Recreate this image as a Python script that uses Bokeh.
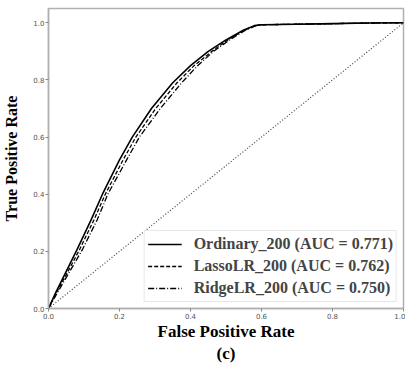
from bokeh.plotting import figure
from bokeh.models import Legend, LegendItem, LinearAxis, FixedTicker, NumeralTickFormatter
from bokeh.embed import file_html
from bokeh.resources import INLINE

# ROC data
tpr_pts = [0, 0.055, 0.13, 0.205, 0.31, 0.40, 0.52, 0.60, 0.70, 0.79, 0.85, 0.90, 0.94, 0.975, 0.99, 0.993, 0.995, 0.997, 0.999, 1.0]
fpr_ordinary = [0, 0.02, 0.05, 0.08, 0.12, 0.152, 0.20, 0.236, 0.29, 0.35, 0.40, 0.45, 0.50, 0.55, 0.58, 0.60, 0.70, 0.80, 0.90, 1.0]
fpr_lasso = [0, 0.022, 0.055, 0.087, 0.128, 0.16, 0.21, 0.246, 0.302, 0.362, 0.41, 0.46, 0.505, 0.553, 0.582, 0.60, 0.70, 0.80, 0.90, 1.0]
fpr_ridge = [0, 0.025, 0.06, 0.095, 0.137, 0.167, 0.22, 0.256, 0.315, 0.375, 0.42, 0.465, 0.51, 0.556, 0.585, 0.60, 0.70, 0.80, 0.90, 1.0]
diag = [0, 1]

labels = ["Ordinary_200 (AUC = 0.771)", "LassoLR_200 (AUC = 0.762)", "RidgeLR_200 (AUC = 0.750)"]
xticks = [0, 0.2, 0.4, 0.6, 0.8, 1.0]
yticks = [0, 0.2, 0.4, 0.6, 0.8, 1.0]
panel_caption = "(c)"

p = figure(frame_width=355, frame_height=300, x_range=(0, 1.0), y_range=(0, 1.05),
           output_backend="svg", toolbar_location=None,
           min_border_left=47, min_border_right=2, min_border_top=8, min_border_bottom=0)
p.background_fill_color = "white"
p.grid.visible = False
p.outline_line_color = "#b0b0b0"
p.outline_line_width = 1.5

r1 = p.line(fpr_ordinary, tpr_pts, line_color="black", line_width=1.6)
r2 = p.line(fpr_lasso, tpr_pts, line_color="black", line_width=1.3, line_dash="4 2")
r3 = p.line(fpr_ridge, tpr_pts, line_color="black", line_width=1.3, line_dash="6 2 1 2")
p.line(diag, diag, line_color="#444444", line_width=1.2, line_dash="1 2")

for ax in (p.xaxis[0], p.yaxis[0]):
    ax.axis_line_color = "#b0b0b0"
    ax.axis_line_width = 1.5
    ax.major_tick_line_color = "#888888"
    ax.major_tick_out = 3
    ax.major_tick_in = 0
    ax.minor_tick_line_color = None
    ax.major_label_text_font = "DejaVu Sans"
    ax.major_label_text_font_size = "7px"
    ax.major_label_text_color = "#555555"
    ax.major_label_standoff = 1
    ax.formatter = NumeralTickFormatter(format="0.0")
    ax.axis_label_text_font = "Liberation Serif"
    ax.axis_label_text_font_style = "bold"
    ax.axis_label_text_color = "black"

p.xaxis[0].ticker = xticks
p.yaxis[0].ticker = yticks
p.xaxis[0].axis_label = "False Positive Rate"
p.yaxis[0].axis_label = "True Positive Rate"
p.xaxis[0].axis_label_text_font_size = "17px"
p.yaxis[0].axis_label_text_font_size = "16px"
p.xaxis[0].axis_label_standoff = 0
p.yaxis[0].axis_label_standoff = 10

# caption "(c)" as a tickless axis label below
cap_axis = LinearAxis(ticker=FixedTicker(ticks=[]), axis_label=panel_caption,
                      axis_line_color=None, major_tick_line_color=None,
                      minor_tick_line_color=None, major_label_text_font_size="0px",
                      major_label_standoff=0, axis_label_standoff=0,
                      axis_label_text_font="Liberation Serif",
                      axis_label_text_font_style="bold",
                      axis_label_text_font_size="17px", axis_label_text_color="black")
p.add_layout(cap_axis, "below")

legend = Legend(items=[LegendItem(label=labels[0], renderers=[r1]),
                       LegendItem(label=labels[1], renderers=[r2]),
                       LegendItem(label=labels[2], renderers=[r3])],
                location="bottom_right", margin=6, padding=3, spacing=2,
                glyph_width=34, glyph_height=20, label_standoff=12,
                label_text_font="Liberation Serif", label_text_font_style="bold",
                label_text_font_size="16px", border_line_color="#d0d0d0",
                background_fill_alpha=0.9)
p.add_layout(legend)

open("out.html", "w").write(file_html(p, INLINE))
